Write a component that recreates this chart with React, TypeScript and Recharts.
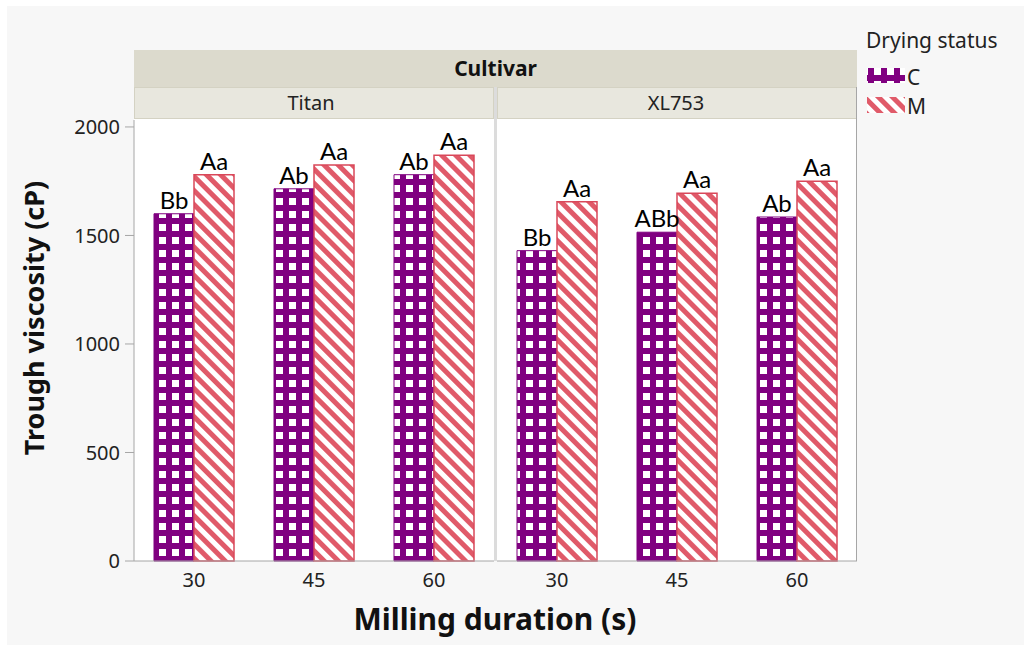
import { BarChart, Bar, XAxis, YAxis, LabelList } from 'recharts';

const durations = ['30', '45', '60'];
const cultivars = ['Titan', 'XL753'];

// trough viscosity (cP) per milling duration
const titanC = [1600, 1715, 1780];
const titanM = [1780, 1825, 1870];
const xlC = [1430, 1515, 1585];
const xlM = [1655, 1695, 1750];

// significance letters above each bar
const titanCLetters = ['Bb', 'Ab', 'Ab'];
const titanMLetters = ['Aa', 'Aa', 'Aa'];
const xlCLetters = ['Bb', 'ABb', 'Ab'];
const xlMLetters = ['Aa', 'Aa', 'Aa'];

const yTicks = [0, 500, 1000, 1500, 2000];

const PURPLE = '#800080';
const RED = '#e05a69';
const RED_EDGE = '#d9485a';
const AXIS = '#a6a6a6';
const FONT = '"Noto Sans", "Open Sans", sans-serif';

const buildRows = (c: number[], m: number[], cl: string[], ml: string[]) =>
  durations.map((d, i) => ({ duration: d, C: c[i], M: m[i], cLab: cl[i], mLab: ml[i] }));

const panels = [
  { name: cultivars[0], rows: buildRows(titanC, titanM, titanCLetters, titanMLetters) },
  { name: cultivars[1], rows: buildRows(xlC, xlM, xlCLetters, xlMLetters) },
];

function Patterns({ id }: { id: string }) {
  return (
    <defs>
      <pattern id={`${id}-grid`} patternUnits="userSpaceOnUse" width={13} height={13}>
        <rect width={13} height={13} fill={PURPLE} />
        <rect x={3} y={3} width={7} height={7} fill="#fff" />
      </pattern>
      <pattern id={`${id}-stripe`} patternUnits="userSpaceOnUse" width={10} height={10} patternTransform="rotate(-45)">
        <rect width={10} height={10} fill="#fff" />
        <rect width={5} height={10} fill={RED} />
      </pattern>
    </defs>
  );
}

const tickStyle = { fontSize: 20, fill: '#222', fontFamily: FONT };
const letterStyle = { fontSize: 24, fill: '#000', fontFamily: 'Lato, "Noto Sans", sans-serif' };

function Panel({ idx, left, width, showY }: { idx: number; left: number; width: number; showY: boolean }) {
  const p = panels[idx];
  const id = `pan${idx}`;
  return (
    <div style={{ position: 'absolute', left, top: 0 }}>
      <BarChart
        width={width}
        height={645}
        data={p.rows}
        margin={{ top: 120, right: 0, bottom: 54, left: 0 }}
        barGap={0}
        barSize={40}
      >
        <Patterns id={id} />
        <XAxis
          dataKey="duration"
          height={30}
          axisLine={{ stroke: AXIS }}
          tickLine={false}
          tick={tickStyle}
          tickMargin={6}
        />
        <YAxis
          hide={!showY}
          width={134}
          domain={[0, 2032]}
          ticks={yTicks}
          axisLine={{ stroke: AXIS }}
          tickLine={{ stroke: AXIS }}
          tickSize={9}
          tickMargin={5}
          tick={tickStyle}
        />
        <Bar dataKey="C" fill={`url(#${id}-grid)`} stroke={PURPLE} strokeWidth={1} isAnimationActive={false}>
          <LabelList dataKey="cLab" position="top" offset={5} style={letterStyle} />
        </Bar>
        <Bar dataKey="M" fill={`url(#${id}-stripe)`} stroke={RED_EDGE} strokeWidth={1.5} isAnimationActive={false}>
          <LabelList dataKey="mLab" position="top" offset={5} style={letterStyle} />
        </Bar>
      </BarChart>
    </div>
  );
}

export default function App() {
  return (
    <div style={{ position: 'fixed', left: 0, top: 0, width: 1024, height: 645, background: '#fff', overflow: 'hidden' }}>
      <svg width={1024} height={645} style={{ position: 'absolute', left: 0, top: 0 }}>
        <Patterns id="legend" />
        <rect x={7} y={6} width={1017} height={639} fill="#f7f7f7" />
        {/* plot backgrounds */}
        <rect x={134} y={119} width={723} height={442} fill="#fff" />
        {/* facet header */}
        <rect x={134} y={50} width={723} height={37} fill="#dcdacd" />
        <text x={495.5} y={76} textAnchor="middle" fontFamily={FONT} fontWeight="bold" fontSize={21} fill="#111">
          Cultivar
        </text>
        <rect x={134.5} y={87.5} width={359} height={31} fill="#e8e7de" stroke="#d4d2c3" />
        <rect x={497.5} y={87.5} width={359} height={31} fill="#e8e7de" stroke="#d4d2c3" />
        <text x={311} y={110} textAnchor="middle" fontFamily={FONT} fontSize={20} fill="#222">
          {cultivars[0]}
        </text>
        <text x={676} y={110} textAnchor="middle" fontFamily={FONT} fontSize={20} fill="#222">
          {cultivars[1]}
        </text>
        {/* panel separator */}
        <rect x={494} y={87} width={3} height={474} fill="#dcdcdc" />
        <line x1={856.5} y1={87} x2={856.5} y2={561} stroke={AXIS} />
        {/* axis titles */}
        <text
          x={44}
          y={318}
          transform="rotate(-90 44 318)"
          textAnchor="middle"
          fontFamily={FONT}
          fontWeight="bold"
          fontSize={27}
          fill="#111"
        >
          Trough viscosity (cP)
        </text>
        <text x={495} y={630} textAnchor="middle" fontFamily={FONT} fontWeight="bold" fontSize={30} fill="#111">
          Milling duration (s)
        </text>
        {/* legend */}
        <text x={866} y={48} fontFamily={FONT} fontSize={21} fill="#222">
          Drying status
        </text>
        <rect x={867} y={68} width={38} height={15} fill="url(#legend-grid)" />
        <text x={907} y={85} fontFamily={FONT} fontSize={21} fill="#222">
          C
        </text>
        <rect x={867} y={97} width={38} height={16} fill="url(#legend-stripe)" />
        <text x={907} y={114} fontFamily={FONT} fontSize={21} fill="#222">
          M
        </text>
      </svg>
      <Panel idx={0} left={0} width={494} showY />
      <Panel idx={1} left={497} width={360} showY={false} />
    </div>
  );
}
